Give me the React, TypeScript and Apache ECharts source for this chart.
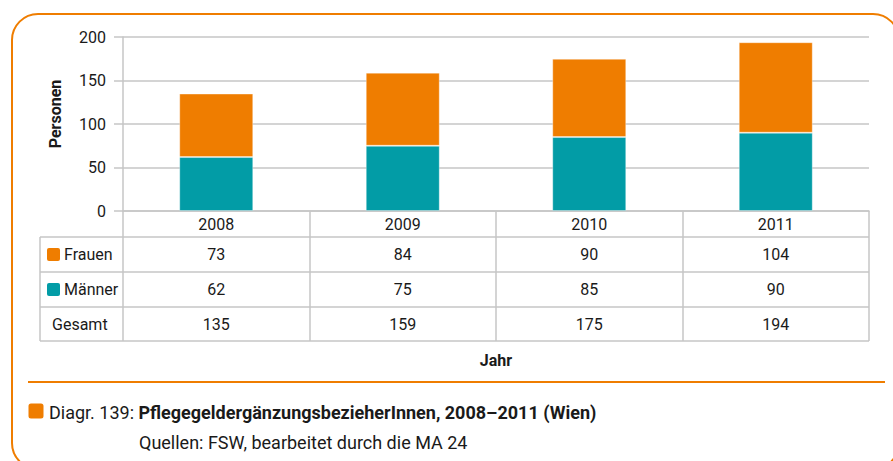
import React, { useEffect, useRef } from "react";
import * as echarts from "echarts";

const years = ["2008", "2009", "2010", "2011"];
const frauen = [73, 84, 90, 104];
const maenner = [62, 75, 85, 90];
const gesamt = [135, 159, 175, 194];
const rowLabels = ["Frauen", "Männer", "Gesamt"];
const yMin = 0;
const yMax = 200;
const yInterval = 50;
const captionPrefix = "Diagr. 139: ";
const captionTitle = "PflegegeldergänzungsbezieherInnen, 2008–2011 (Wien)";
const captionSource = "Quellen: FSW, bearbeitet durch die MA 24";
const yName = "Personen";
const xName = "Jahr";

const ORANGE = "#EF7D00";
const TEAL = "#029CA6";
const GRAY = "#C6C6C6";
const TXT = "#1A1A1A";
const FONT = "Roboto, 'Liberation Sans', sans-serif";

const W = 893;
const H = 461;
const GL = 123; // grid left
const GR = 869; // grid right
const GT = 37;
const GB = 211;
const ROWS = [237, 272, 307, 341];
const TL = 40;

export default function App() {
  const ref = useRef<HTMLDivElement>(null);
  useEffect(() => {
    if (!ref.current) return;
    const chart = echarts.init(ref.current, undefined, { renderer: "svg" });
    const labelStyle = { fontFamily: FONT, fontSize: 16, color: TXT };
    const rowAxis = (vals: number[], margin: number) => ({
      type: "category",
      data: years,
      gridIndex: 0,
      position: "bottom",
      axisLine: { show: false },
      axisTick: { show: false },
      splitLine: { show: false },
      axisLabel: {
        ...labelStyle,
        interval: 0,
        margin,
        verticalAlign: "middle",
        formatter: (_v: string, i: number) => String(vals[i]),
      },
    });

    const graphics: any[] = [
      {
        type: "rect",
        shape: { x: 12, y: 14, width: 887, height: 455, r: 26 },
        style: { fill: "none", stroke: ORANGE, lineWidth: 2 },
        silent: true,
      },
      {
        type: "line",
        shape: { x1: 28, y1: 382, x2: 885, y2: 382 },
        style: { stroke: ORANGE, lineWidth: 2 },
      },
    ];
    ROWS.forEach((y) => {
      graphics.push({
        type: "line",
        shape: { x1: TL, y1: y, x2: GR, y2: y },
        style: { stroke: GRAY, lineWidth: 1.5 },
      });
    });
    graphics.push({
      type: "line",
      shape: { x1: TL, y1: ROWS[0], x2: TL, y2: ROWS[3] },
      style: { stroke: GRAY, lineWidth: 1.5 },
    });
    const swatchColors = [ORANGE, TEAL];
    rowLabels.forEach((lab, i) => {
      const cy = (ROWS[i] + ROWS[i + 1]) / 2;
      if (i < 2) {
        graphics.push({
          type: "rect",
          shape: { x: 47, y: cy - 6.5, width: 13, height: 13, r: 2 },
          style: { fill: swatchColors[i] },
        });
        graphics.push({
          type: "text",
          x: 64,
          y: cy,
          style: { text: lab, font: `16px ${FONT}`, fill: TXT, verticalAlign: "middle", align: "left" },
        });
      } else {
        graphics.push({
          type: "text",
          x: 52,
          y: cy,
          style: { text: lab, font: `16px ${FONT}`, fill: TXT, verticalAlign: "middle", align: "left" },
        });
      }
    });
    graphics.push({
      type: "text",
      x: 55,
      y: 114,
      rotation: Math.PI / 2,
      style: {
        text: yName,
        font: `bold 16px ${FONT}`,
        fill: TXT,
        align: "center",
        verticalAlign: "middle",
      },
    });
    graphics.push({
      type: "rect",
      shape: { x: 28.5, y: 403.5, width: 15, height: 15, r: 2.5 },
      style: { fill: ORANGE },
    });
    graphics.push({
      type: "text",
      x: 49,
      y: 412,
      style: {
        text: `{n|${captionPrefix}}{b|${captionTitle}}`,
        fill: TXT,
        verticalAlign: "middle",
        rich: {
          n: { fontFamily: FONT, fontSize: 18, fill: TXT },
          b: { fontFamily: FONT, fontSize: 18, fontWeight: "bold", fill: TXT },
        },
      },
    });
    graphics.push({
      type: "text",
      x: 139,
      y: 442,
      style: { text: captionSource, font: `18px ${FONT}`, fill: TXT, verticalAlign: "middle" },
    });

    chart.setOption({
      animation: false,
      grid: { left: GL, right: W - GR, top: GT, bottom: H - GB, containLabel: false },
      xAxis: [
        {
          type: "category",
          data: years,
          position: "bottom",
          axisLine: { show: true, lineStyle: { color: GRAY, width: 1.5 } },
          axisTick: {
            show: true,
            inside: false,
            length: ROWS[3] - GB,
            alignWithLabel: false,
            interval: 0,
            lineStyle: { color: GRAY, width: 1.5 },
          },
          splitLine: { show: false },
          axisLabel: { ...labelStyle, interval: 0, margin: 13, verticalAlign: "middle" },
          name: xName,
          nameLocation: "middle",
          nameGap: 149,
          nameTextStyle: { fontFamily: FONT, fontSize: 16, fontWeight: "bold", color: TXT, verticalAlign: "middle" },
        },
        rowAxis(frauen, (ROWS[0] + ROWS[1]) / 2 - GB),
        rowAxis(maenner, (ROWS[1] + ROWS[2]) / 2 - GB),
        rowAxis(gesamt, (ROWS[2] + ROWS[3]) / 2 - GB),
      ],
      yAxis: {
        type: "value",
        min: yMin,
        max: yMax,
        interval: yInterval,
        axisLine: { show: true, lineStyle: { color: GRAY, width: 1.5 } },
        axisTick: { show: true, length: 9, lineStyle: { color: GRAY, width: 1.5 } },
        splitLine: { show: true, lineStyle: { color: GRAY, width: 1.5 } },
        axisLabel: { ...labelStyle, margin: 17 },
      },
      series: [
        {
          name: "Männer",
          type: "bar",
          stack: "total",
          xAxisIndex: 0,
          data: maenner,
          barWidth: 74,
          itemStyle: { color: TEAL, borderColor: "rgba(255,255,255,0.35)", borderWidth: 1 },
        },
        {
          name: "Frauen",
          type: "bar",
          stack: "total",
          xAxisIndex: 0,
          data: frauen,
          barWidth: 74,
          itemStyle: { color: ORANGE, borderColor: "rgba(255,255,255,0.35)", borderWidth: 1 },
        },
      ],
      graphic: graphics,
    });
    return () => chart.dispose();
  }, []);
  return (
    <div
      ref={ref}
      style={{ position: "absolute", left: 0, top: 0, width: W, height: H, background: "#fff" }}
    />
  );
}
